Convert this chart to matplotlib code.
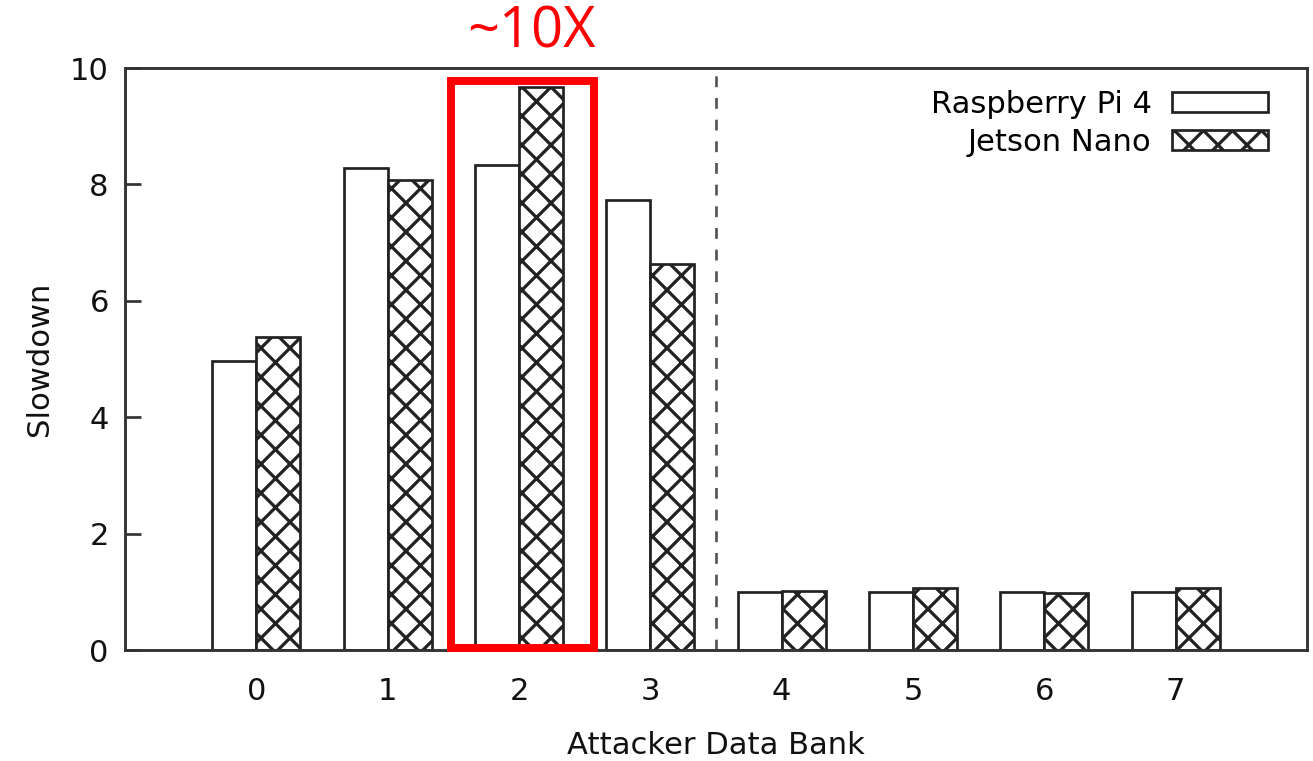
import matplotlib
matplotlib.use("Agg")
import matplotlib.pyplot as plt
from matplotlib.patches import Rectangle
import numpy as np

banks = ["0", "1", "2", "3", "4", "5", "6", "7"]
raspberry = [4.96, 8.29, 8.34, 7.74, 1.00, 1.00, 1.00, 1.00]
jetson = [5.37, 8.08, 9.68, 6.63, 1.01, 1.07, 0.98, 1.06]
series_names = ["Raspberry Pi 4", "Jetson Nano"]
yticks = [0, 2, 4, 6, 8, 10]

DPI = 174
S = 130 / DPI  # point-size scale (sizes were tuned at 130 dpi)

plt.rcParams['font.family'] = ['DejaVu Sans']
plt.rcParams['hatch.linewidth'] = 1.8 * S
plt.rcParams['hatch.color'] = '#222222'

fig = plt.figure(figsize=(1313 / DPI, 761 / DPI), dpi=DPI)
ax = fig.add_axes([125 / 1313, 1 - 650 / 761, (1307 - 125) / 1313, (650 - 68) / 761])

FS = 17 * S
x = np.arange(len(banks))
w = 0.335
ax.bar(x - w / 2, raspberry, w, facecolor='white', edgecolor='#222222', linewidth=1.5 * S,
       label=series_names[0], zorder=2)
ax.bar(x + w / 2, jetson, w, facecolor='white', edgecolor='#222222', linewidth=1.5 * S,
       hatch='xx', label=series_names[1], zorder=2)

ax.axvline(3.5, color='#555555', linestyle=(0, (4, 4)), linewidth=1.5 * S, zorder=1)

ax.set_xlim(-1, 8)
ax.set_ylim(0, 10)
ax.set_xticks(x)
ax.set_xticklabels(banks)
ax.set_yticks(yticks)
ax.tick_params(axis='x', length=0, pad=15 * S, labelsize=FS, colors='#111111')
ax.tick_params(axis='y', direction='in', length=9 * S, width=1.5 * S, pad=9 * S, labelsize=FS,
               colors='#111111', color='#333333')
for s in ax.spines.values():
    s.set_linewidth(1.6 * S)
    s.set_color('#333333')

ax.set_xlabel("Attacker Data Bank", fontsize=FS, labelpad=14 * S, color='#111111')
ax.set_ylabel("Slowdown", fontsize=FS, labelpad=9 * S, color='#111111')

leg = ax.legend(loc='upper right', bbox_to_anchor=(0.977, 0.984), frameon=False,
                markerfirst=False, fontsize=FS, handlelength=3.1, handleheight=0.62,
                handletextpad=0.68, labelspacing=0.3, borderaxespad=0)

# highlight box
rect = Rectangle((1.48, 0.03), 2.57 - 1.48, 9.78 - 0.03, fill=False, edgecolor='red',
                 linewidth=4.4 * S, zorder=5, clip_on=False)
ax.add_patch(rect)
ax.text(2.095, 1.011, "~10X", transform=ax.get_xaxis_transform(), color='red',
        fontsize=31 * S, family='Open Sans', ha='center', va='bottom')

fig.savefig("out.png", dpi=DPI)
